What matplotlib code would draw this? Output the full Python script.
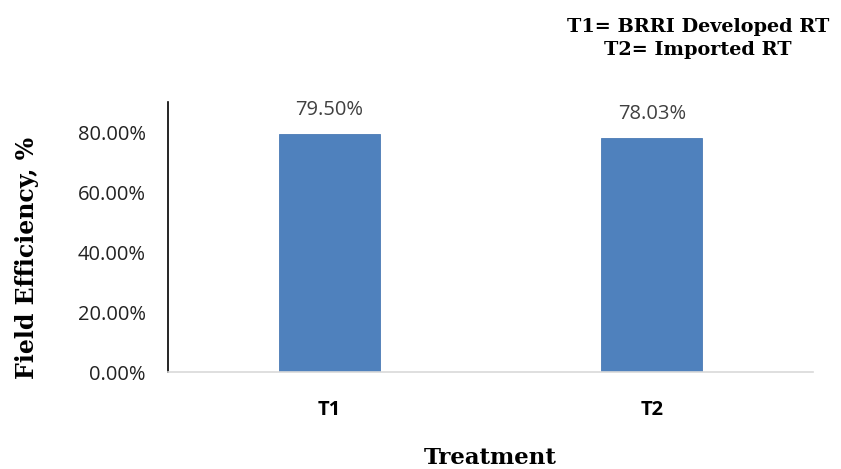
import matplotlib
matplotlib.use("Agg")
import matplotlib.pyplot as plt
from matplotlib.ticker import FuncFormatter

treatments = ["T1", "T2"]
field_efficiency = [0.7950, 0.7803]
value_labels = ["79.50%", "78.03%"]

fig = plt.figure(figsize=(8.41, 4.69), dpi=100)
ax = fig.add_axes([168 / 841, 1 - 372 / 469, (813 - 168) / 841, 270 / 469])

x = range(len(treatments))
bars = ax.bar(x, field_efficiency, width=0.313, color="#4f81bd", edgecolor="#4a7ab5", linewidth=0.6)

ax.set_xlim(-0.5, 1.5)
ax.set_ylim(0, 0.9)
ax.set_yticks([0, 0.2, 0.4, 0.6, 0.8])
ax.yaxis.set_major_formatter(FuncFormatter(lambda v, _: f"{v * 100:.2f}%"))
ax.set_xticks(list(x))
ax.set_xticklabels(treatments, fontfamily="Open Sans", fontweight="bold", fontsize=14.5)

for lbl in ax.get_yticklabels():
    lbl.set_fontfamily("Open Sans")
    lbl.set_fontsize(14.5)
    lbl.set_color("#222222")

ax.tick_params(axis="y", length=0, pad=16)
ax.tick_params(axis="x", length=0, pad=20)

for side in ("top", "right"):
    ax.spines[side].set_visible(False)
ax.spines["left"].set_color("black")
ax.spines["left"].set_linewidth(1.2)
ax.spines["bottom"].set_color("#d9d9d9")
ax.spines["bottom"].set_linewidth(1.2)

for rect, txt in zip(bars, value_labels):
    ax.annotate(txt, (rect.get_x() + rect.get_width() / 2, rect.get_height()),
                xytext=(0, 10), textcoords="offset points", ha="center", va="bottom",
                fontfamily="Open Sans", fontsize=14.5, color="#404040")

ax.set_xlabel("Treatment", fontfamily="DejaVu Serif", fontweight="bold", fontsize=16.5)
ax.set_ylabel("Field Efficiency, %", fontfamily="DejaVu Serif", fontweight="bold", fontsize=17)
ax.xaxis.label.set_va("center")
ax.yaxis.label.set_va("center")
ax.xaxis.set_label_coords((490 - 168) / 645, (372 - 458) / 270)
ax.yaxis.set_label_coords((27 - 168) / 645, (372 - 258) / 270)

fig.text(698 / 841, 1 - 38.5 / 469, "T1= BRRI Developed RT\nT2= Imported RT", ha="center", va="center",
         fontfamily="DejaVu Serif", fontweight="bold", fontsize=13.9, linespacing=1.4)

fig.savefig("out.png", dpi=100)
